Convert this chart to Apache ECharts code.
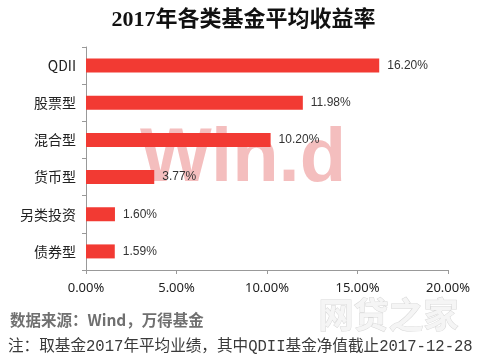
<!DOCTYPE html>
<html>
<head>
<meta charset="utf-8">
<script src="https://cdn.jsdelivr.net/npm/echarts@6/dist/echarts.min.js"></script>
<style>html,body{margin:0;padding:0;background:#fff;}#c{width:487px;height:362px;}</style>
</head>
<body>
<div id="c"></div>
<script>
var categories = ['QDII', '股票型', '混合型', '货币型', '另类投资', '债券型'];
var returns = [16.20, 11.98, 10.20, 3.77, 1.60, 1.59];
var xTicks = [0, 5, 10, 15, 20];

var chart = echarts.init(document.getElementById('c'));
chart.setOption({
  backgroundColor: '#fff',
  animation: false,
  title: {
    text: '2017年各类基金平均收益率',
    left: 'center',
    top: 4,
    textStyle: {fontFamily: 'Liberation Serif, Noto Sans CJK SC', fontWeight: 'bold', fontSize: 22, color: '#111'}
  },
  graphic: [
    {type: 'text', z: 0, left: 140, top: 122, silent: true,
     style: {text: 'Win.d', font: 'bold 76px Liberation Sans, Arial', fill: 'rgba(232,120,120,0.48)'}},
    {type: 'text', z: 0, left: 318, top: 297,
     style: {text: '网贷之家', font: 'bold 35px Noto Sans CJK SC', fill: '#f5f5f5', stroke: '#d8d8d8', lineWidth: 1}},
    {type: 'text', left: 10, top: 312,
     style: {text: '数据来源：Wind，万得基金', font: 'bold 15.5px Noto Sans CJK SC', fill: '#707070'}},
    {type: 'text', left: 8, top: 339,
     style: {text: '注：取基金2017年平均业绩，其中QDII基金净值截止2017-12-28', font: '15.6px Liberation Mono, Noto Sans CJK SC', fill: '#3a3a3a'}}
  ],
  grid: {left: 86, right: 39, top: 47, bottom: 92, containLabel: false},
  xAxis: {
    type: 'value', min: xTicks[0], max: xTicks[xTicks.length - 1], interval: 5,
    axisLine: {show: true, lineStyle: {color: '#999'}},
    axisTick: {show: true, length: 4, lineStyle: {color: '#999'}},
    splitLine: {show: false},
    axisLabel: {formatter: function (v) { return v.toFixed(2) + '%'; }, fontSize: 13, color: '#222', margin: 12, fontFamily: 'Noto Sans, DejaVu Sans'}
  },
  yAxis: {
    type: 'category', data: categories, inverse: true,
    axisLine: {show: true, lineStyle: {color: '#999'}},
    axisTick: {show: true, length: 4, lineStyle: {color: '#999'}},
    axisLabel: {fontSize: 14, color: '#222', margin: 10, fontFamily: 'Noto Sans CJK SC'}
  },
  series: [{
    type: 'bar', data: returns, barWidth: 14, z: 5,
    itemStyle: {color: '#f23a33'},
    label: {show: true, position: 'right', distance: 8, fontSize: 12, color: '#333',
      fontFamily: 'Liberation Sans, Arial',
      formatter: function (p) { return p.value.toFixed(2) + '%'; }}
  }]
});
</script>
</body>
</html>
